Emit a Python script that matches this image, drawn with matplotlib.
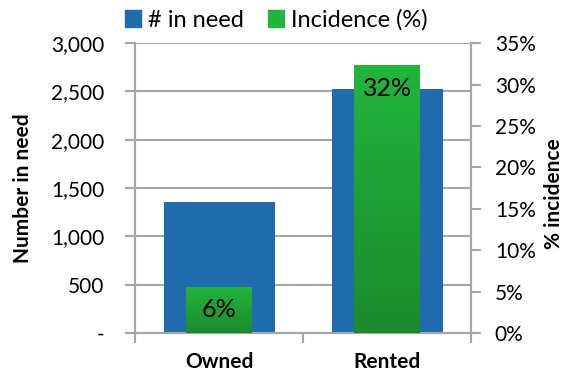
import numpy as np
import matplotlib
matplotlib.use('Agg')
import matplotlib.pyplot as plt
from matplotlib.colors import LinearSegmentedColormap
from matplotlib.patches import Patch
from matplotlib.ticker import FuncFormatter

# Data
categories = ['Owned', 'Rented']
in_need = [1360, 2520]
incidence = [5.6, 32.3]
left_ticks = [0, 500, 1000, 1500, 2000, 2500, 3000]
right_ticks = [0, 5, 10, 15, 20, 25, 30, 35]

blue = '#1F6BAD'
green_top = '#22B53C'
green_bottom = '#1B8A2C'
grid_gray = '#A6A6A6'

plt.rcParams['font.family'] = ['Lato', 'DejaVu Sans']
plt.rcParams['font.size'] = 15

fig = plt.figure(figsize=(5.65, 3.78), dpi=100)
ax = fig.add_axes([0.239, 0.119, 0.595, 0.767])
ax2 = ax.twinx()

x = np.arange(len(categories))

# Blue bars (number in need) on the left axis
ax.bar(x, in_need, width=0.66, color=blue, zorder=2)
ax.set_ylim(0, 3000)
ax.set_yticks(left_ticks)
ax.yaxis.set_major_formatter(FuncFormatter(lambda v, p: '-' if v == 0 else f'{v:,.0f}'))
ax.grid(axis='y', color=grid_gray, linewidth=1.5, zorder=0)
ax.set_axisbelow(True)
ax.set_xlim(-0.5, 1.5)
ax.set_xticks(x)
ax.set_xticklabels(categories, fontweight='bold')
ax.set_xticks([-0.5, 0.5, 1.5], minor=True)
ax.tick_params(axis='x', which='major', length=0, pad=14)
ax.tick_params(axis='x', which='minor', length=7, color=grid_gray, width=1.5)
ax.tick_params(axis='y', length=7, color=grid_gray, width=1.5, pad=15)
ax.set_ylabel('Number in need', fontweight='bold')
ax.yaxis.set_label_coords(-0.305, 0.5)

# Green bars (incidence) on the right axis, with a vertical gradient
ax2.set_ylim(0, 35)
green_bars = ax2.bar(x, incidence, width=0.39, color='none', zorder=3)
cmap = LinearSegmentedColormap.from_list('g', [green_bottom, green_top])
grad = np.linspace(0, 1, 100).reshape(-1, 1)
for bar in green_bars:
    bx, by = bar.get_x(), bar.get_y()
    bw, bh = bar.get_width(), bar.get_height()
    im = ax2.imshow(grad, cmap=cmap, origin='lower', aspect='auto',
                    extent=[bx, bx + bw, by, by + bh], zorder=3)
    im.set_clip_path(bar)
ax2.set_xlim(-0.5, 1.5)
ax2.set_ylim(0, 35)
ax2.set_yticks(right_ticks)
ax2.yaxis.set_major_formatter(FuncFormatter(lambda v, p: f'{v:.0f}%'))
ax2.tick_params(axis='y', length=7, color=grid_gray, width=1.5, pad=10)
ax2.set_ylabel('% incidence', fontweight='bold', fontsize=15)
ax2.yaxis.set_label_coords(1.218, 0.48)

for xi, val in zip(x, incidence):
    ax2.annotate(f'{val:.0f}%', (xi, val), xytext=(0, -8), textcoords='offset points',
                 ha='center', va='top', fontsize=18, zorder=5)

for a in (ax, ax2):
    a.spines['top'].set_visible(False)
    for s in ('left', 'right', 'bottom'):
        a.spines[s].set_color(grid_gray)
        a.spines[s].set_linewidth(1.5)

handles = [Patch(color=blue, label='# in need'), Patch(color=green_top, label='Incidence (%)')]
fig.legend(handles=handles, loc='upper center', bbox_to_anchor=(0.489, 1.0), ncol=2,
           frameon=False, handlelength=0.7, handleheight=0.7, handletextpad=0.3,
           columnspacing=1.0, fontsize=17, borderaxespad=0.0)

fig.savefig('out.png', dpi=100)
